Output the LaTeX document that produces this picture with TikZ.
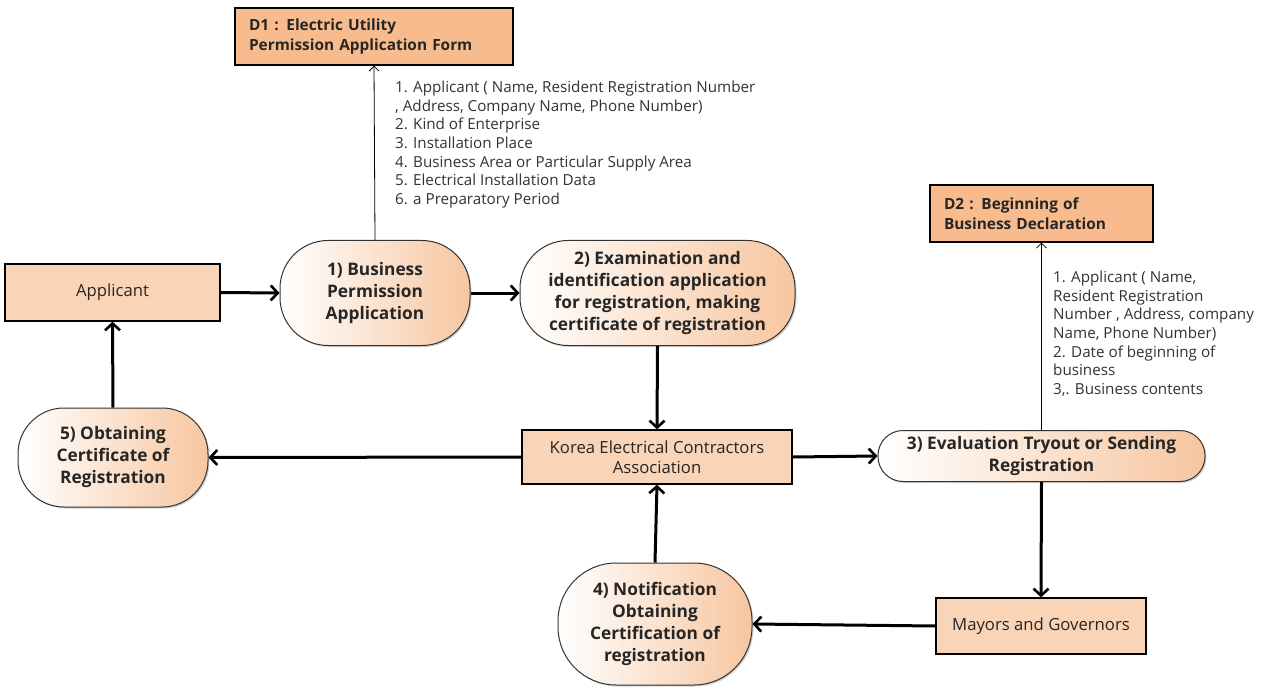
\documentclass[tikz,border=0pt]{standalone}
\usepackage{fontspec}
\setmainfont{Open Sans}
\usetikzlibrary{arrows.meta,shadows}
\definecolor{storefill}{RGB}{248,187,141}
\definecolor{boxfill}{RGB}{250,212,182}
\definecolor{procright}{RGB}{247,198,160}
\tikzset{
  storebox/.style={draw=black, line width=1.2pt, fill=storefill, inner sep=0pt,
    font=\fontsize{15.4}{19.5}\selectfont\bfseries, align=left, text=black!85},
  entitybox/.style={draw=black, line width=1.2pt, fill=boxfill, inner sep=0pt,
    font=\fontsize{16.7}{20}\selectfont, align=center, text=black!85},
  procnode/.style={draw=black!80, line width=1pt, left color=white, right color=procright,
    inner sep=0pt, font=\fontsize{17.3}{22}\selectfont\bfseries, align=center, text=black!85,
    drop shadow={shadow xshift=1.5pt, shadow yshift=-1.5pt, opacity=0.35}},
  flow/.style={line width=3pt, -{Straight Barb[length=7pt,width=15pt,line width=2.6pt]}},
  dataflow/.style={line width=0.8pt, -{Straight Barb[length=5pt,width=10pt]}},
  attrtext/.style={font=\fontsize{15.2}{18.6}\selectfont, align=left, text=black!80, inner sep=0pt, anchor=north west}
}
\begin{document}
\begin{tikzpicture}[x=1pt,y=-1pt]
\path[use as bounding box, fill=white] (0,0) rectangle (1269,687);

% data stores
\node[storebox, minimum width=278, minimum height=57, text width=250] (d1) at (374,36.5)
  {D1 : Electric Utility\\Permission Application Form};
\node[storebox, minimum width=223, minimum height=57, text width=195] (d2) at (1041.5,213.5)
  {D2 : Beginning of\\Business Declaration};

% external entities
\node[entitybox, minimum width=215, minimum height=57] (app) at (112.5,292.5) {Applicant};
\node[entitybox, minimum width=270, minimum height=54] (keca) at (657,457)
  {Korea Electrical Contractors\\Association};
\node[entitybox, minimum width=210, minimum height=56] (mayor) at (1041,626) {Mayors and Governors};

% processes
\node[procnode, rounded corners=48, minimum width=190, minimum height=105] (p1) at (375,293)
  {1) Business\\Permission\\Application};
\node[procnode, rounded corners=48, minimum width=275, minimum height=105] (p2) at (657.5,293)
  {2) Examination and\\identification application\\for registration, making\\certificate of registration};
\node[procnode, rounded corners=25, minimum width=327, minimum height=51] (p3) at (1041.5,456)
  {3) Evaluation Tryout or Sending\\Registration};
\node[procnode, rounded corners=58, minimum width=194, minimum height=122] (p4) at (655,624)
  {4) Notification\\Obtaining\\Certification of\\registration};
\node[procnode, rounded corners=46, minimum width=190, minimum height=99] (p5) at (113,457.5)
  {5) Obtaining\\Certificate of\\Registration};

% attribute lists of the data flows
\node[attrtext] (a1) at (395,81)
  {1. Applicant ( Name, Resident Registration Number\\
   , Address, Company Name, Phone Number)\\
   2. Kind of Enterprise\\
   3. Installation Place\\
   4. Business Area or Particular Supply Area\\
   5. Electrical Installation Data\\
   6. a Preparatory Period};
\node[attrtext] (a2) at (1053,271)
  {1. Applicant ( Name,\\
   Resident Registration\\
   Number , Address, company\\
   Name, Phone Number)\\
   2. Date of beginning of\\
   business\\
   3,. Business contents};

% data flows to the stores
\draw[dataflow] (p1.north) -- (d1.south);
\draw[dataflow] (p3.north) -- (d2.south);

% main process flows
\draw[flow] (app.east) -- (p1.west);
\draw[flow] (p1.east) -- (p2.west);
\draw[flow] (p2.south) -- (keca.north);
\draw[flow] (keca.east) -- (p3.west);
\draw[flow] (p3.south) -- (mayor.north);
\draw[flow] (mayor.west) -- (p4.east);
\draw[flow] (p4.north) -- (keca.south);
\draw[flow] (keca.west) -- (p5.east);
\draw[flow] (p5.north) -- (app.south);
\end{tikzpicture}
\end{document}
